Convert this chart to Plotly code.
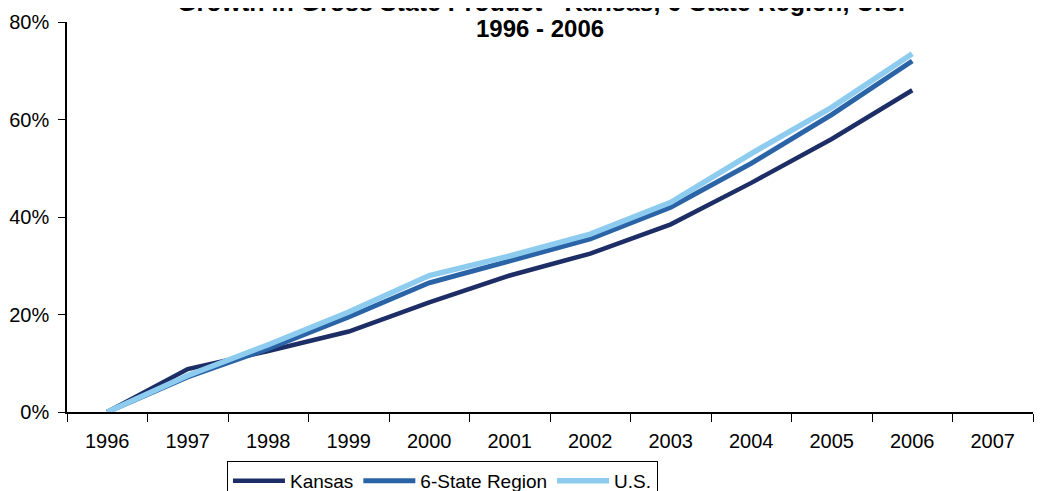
import plotly.graph_objects as go

years = ["1996", "1997", "1998", "1999", "2000", "2001", "2002", "2003", "2004", "2005", "2006", "2007"]
kansas = [0.0, 0.088, 0.125, 0.165, 0.225, 0.28, 0.325, 0.385, 0.47, 0.56, 0.66, None]
six_state = [0.0, 0.072, 0.13, 0.195, 0.265, 0.31, 0.355, 0.42, 0.51, 0.61, 0.72, None]
us = [0.0, 0.075, 0.138, 0.205, 0.28, 0.32, 0.365, 0.43, 0.53, 0.625, 0.735, None]

title_line1 = "Growth in Gross State Product - Kansas, 6-State Region, U.S."
title_line2 = "1996 - 2006"
y_ticks = [0, 0.2, 0.4, 0.6, 0.8]

FONT = "Liberation Sans, Arial, sans-serif"

fig = go.Figure()
fig.add_trace(go.Scatter(x=years, y=kansas, mode="lines", name="Kansas",
                         line=dict(color="#1d2d66", width=4.5)))
fig.add_trace(go.Scatter(x=years, y=six_state, mode="lines", name="6-State Region",
                         line=dict(color="#2b64a6", width=5)))
fig.add_trace(go.Scatter(x=years, y=us, mode="lines", name="U.S.",
                         line=dict(color="#8dccef", width=5.5)))

# the page places the figure 8px from the top-left corner; margins compensate
fig.update_layout(
    width=1053, height=491,
    margin=dict(l=59, r=28, t=14, b=87, autoexpand=False),
    paper_bgcolor="white", plot_bgcolor="white",
    font=dict(family=FONT, size=20, color="black"),
    showlegend=True,
    legend=dict(orientation="h", x=0.1656, xanchor="left", y=-0.1256, yanchor="top",
                bordercolor="black", borderwidth=1, font=dict(size=19),
                bgcolor="white", itemwidth=52, tracegroupgap=0),
    annotations=[
        dict(text="<b>" + title_line1 + "</b>",
             xref="paper", yref="paper", x=(541 - 67) / 966, y=(412 - 18) / 390,
             xanchor="center", yanchor="bottom", showarrow=False,
             font=dict(family=FONT, size=25, color="black")),
        dict(text="<b>" + title_line2 + "</b>",
             xref="paper", yref="paper", x=(540 - 67) / 966, y=(412 - 44) / 390,
             xanchor="center", yanchor="bottom", showarrow=False,
             font=dict(family=FONT, size=24, color="black")),
    ],
)
fig.update_xaxes(type="category", categoryorder="array", categoryarray=years,
                 range=[-0.5, 11.5], tickson="boundaries", ticks="outside", ticklen=8,
                 tickcolor="black", showline=True, linecolor="black", linewidth=1.5,
                 showgrid=False, zeroline=False, tickfont=dict(size=20),
                 automargin=False, ticklabelstandoff=10)
fig.update_yaxes(range=[0, 0.8], tickvals=y_ticks, tickformat=".0%", ticks="outside",
                 ticklen=7, tickcolor="black", showline=True, linecolor="black",
                 linewidth=1.5, showgrid=False, zeroline=False, tickfont=dict(size=20),
                 ticklabelstandoff=5, automargin=False)

fig.write_html("out.html")
